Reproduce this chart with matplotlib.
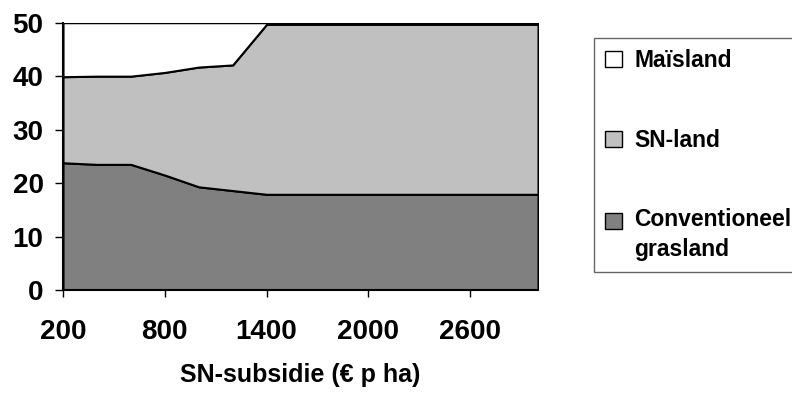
import numpy as np
import matplotlib
matplotlib.use('Agg')
import matplotlib.pyplot as plt
from matplotlib.patches import Patch, Rectangle
from matplotlib.legend_handler import HandlerPatch

plt.rcParams['font.family'] = ['Liberation Sans', 'DejaVu Sans']
plt.rcParams['font.weight'] = 'bold'

# SN-subsidie per ha
subsidie = [200, 400, 600, 800, 1000, 1200, 1400, 1600, 1800, 2000, 2200, 2400, 2600, 2800, 3000]
# area per land use
conv_grasland = [23.8, 23.5, 23.5, 21.5, 19.3, 18.6, 17.9, 17.9, 17.9, 17.9, 17.9, 17.9, 17.9, 17.9, 17.9]
sn_land = [16.1, 16.5, 16.5, 19.2, 22.4, 23.5, 31.8, 31.8, 31.8, 31.8, 31.8, 31.8, 31.8, 31.8, 31.8]
maisland = [10.1, 10.0, 10.0, 9.3, 8.3, 7.9, 0.3, 0.3, 0.3, 0.3, 0.3, 0.3, 0.3, 0.3, 0.3]

labels = ['Conventioneel\ngrasland', 'SN-land', 'Maïsland']
colors = ['#808080', '#c0c0c0', '#ffffff']
xticks = [200, 800, 1400, 2000, 2600]

fig = plt.figure(figsize=(7.92, 4.01), dpi=100)
ax = fig.add_axes([63/792, 1-290/401, 475/792, 267.3/401])

x = np.array(subsidie)
bottom = np.zeros(len(x))
for vals, lab, col in zip([conv_grasland, sn_land, maisland], labels, colors):
    top = bottom + np.array(vals)
    ax.fill_between(x, bottom, top, facecolor=col, edgecolor='black', linewidth=1.5, label=lab)
    bottom = top

ax.set_xlim(200, 3000)
ax.set_ylim(0, 50)
ax.set_xticks(xticks)
ax.set_yticks([0, 10, 20, 30, 40, 50])
ax.tick_params(axis='x', direction='out', length=5, width=1, pad=16, labelsize=20)
ax.tick_params(axis='y', direction='out', length=6, width=1, pad=8, labelsize=20)
for s in ['top', 'right']:
    ax.spines[s].set_visible(False)
for s in ['left', 'bottom']:
    ax.spines[s].set_linewidth(1.5)

ax.set_xlabel('SN-subsidie (€ p ha)', fontsize=18, fontweight='bold')
ax.xaxis.set_label_coords(0.5, -0.272)


# square legend keys; for the two-line label the key sits next to the first line
def first_line_square(legend, orig_handle, xdescent, ydescent, width, height, fontsize):
    return Rectangle((-xdescent, -ydescent + 0.62 * fontsize), width, height)


proxies = [Patch(facecolor=c, edgecolor='black', linewidth=1) for c in colors]
leg = fig.legend(proxies[::-1], labels[::-1], loc='upper left',
                 bbox_to_anchor=(594/792, 1-38/401), borderaxespad=0,
                 fontsize=16.5, frameon=True, fancybox=False,
                 handlelength=0.7, handleheight=0.7, handletextpad=0.55,
                 labelspacing=2.45, borderpad=0.5,
                 handler_map={proxies[0]: HandlerPatch(patch_func=first_line_square)})
leg.get_frame().set_edgecolor('#404040')
leg.get_frame().set_linewidth(1)
for t in leg.get_texts():
    t.set_linespacing(1.4)

fig.savefig('out.png', dpi=100)
